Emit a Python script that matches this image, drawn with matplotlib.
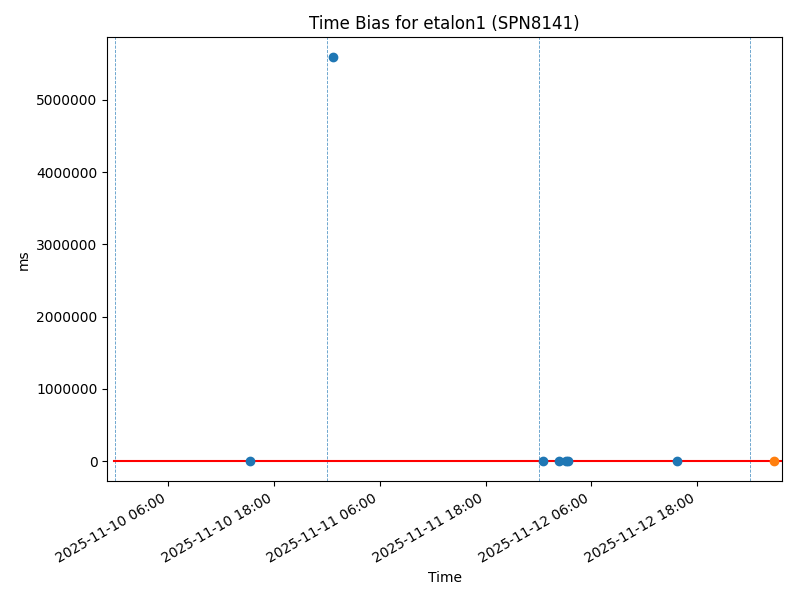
import matplotlib
matplotlib.use("Agg")
import matplotlib.pyplot as plt
import matplotlib.dates as mdates
import pandas as pd

# Data
blue_times = ["2025-11-10 15:16", "2025-11-11 00:40", "2025-11-12 00:27",
              "2025-11-12 02:16", "2025-11-12 03:06", "2025-11-12 03:20",
              "2025-11-12 15:38"]
blue_values = [0, 5590000, 0, 0, 0, 0, 0]
orange_times = ["2025-11-13 02:38"]
orange_values = [0]
midnights = ["2025-11-10 00:00", "2025-11-11 00:00", "2025-11-12 00:00", "2025-11-13 00:00"]
ref_line_times = ["2025-11-09 23:56", "2025-11-13 06:00"]
ref_line_values = [0, 0]
xlim_times = ["2025-11-09 23:08", "2025-11-13 03:35"]

bt = pd.to_datetime(blue_times)
ot = pd.to_datetime(orange_times)
mt = pd.to_datetime(midnights)
rt = pd.to_datetime(ref_line_times)
xl = pd.to_datetime(xlim_times)

fig, ax = plt.subplots(figsize=(8, 6), dpi=100)
for m in mt:
    ax.axvline(m, color="#1f77b4", linestyle="--", linewidth=0.6, alpha=0.75)
ax.plot(rt, ref_line_values, color="red", linewidth=1.5)
ax.plot(bt, blue_values, "o", color="C0")
ax.plot(ot, orange_values, "o", color="C1")

ax.set_xlim(xl[0], xl[1])
ax.xaxis.set_major_locator(mdates.HourLocator(byhour=[6, 18]))
ax.xaxis.set_major_formatter(mdates.DateFormatter("%Y-%m-%d %H:%M"))
ax.ticklabel_format(style="plain", axis="y", useOffset=False)
ax.set_title("Time Bias for etalon1 (SPN8141)")
ax.set_xlabel("Time")
ax.set_ylabel("ms")
fig.autofmt_xdate()
fig.subplots_adjust(left=0.134, right=0.9775, top=0.938, bottom=0.198)
fig.savefig("out.png", dpi=100)
